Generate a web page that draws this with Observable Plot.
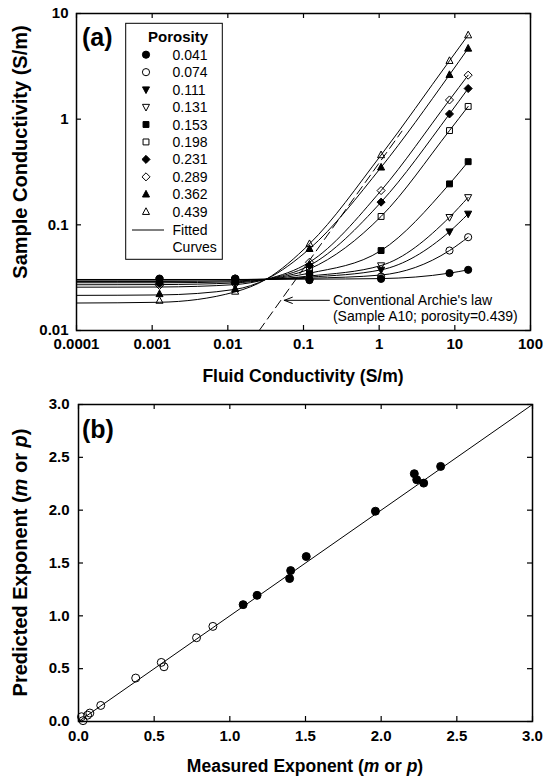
<!DOCTYPE html>
<html><head><meta charset="utf-8">
<script src="https://cdn.jsdelivr.net/npm/d3@7"></script>
<script src="https://cdn.jsdelivr.net/npm/@observablehq/plot@0.6"></script>
<style>
body{margin:0;background:#fff;}
#wrap{position:relative;width:543px;height:781px;font-family:"Liberation Sans",Arial,sans-serif;}
#wrap svg{position:absolute;left:0;}
</style></head><body><div id="wrap"></div>
<script>
// ---------- Panel (a) data ----------
const porosities = ["0.041","0.074","0.111","0.131","0.153","0.198","0.231","0.289","0.362","0.439"];
const symbolKind = ["circle","circle","triDown","triDown","square","square","diamond","diamond","triUp","triUp"];
const symbolFilled = [true,false,true,false,true,false,true,false,true,false];
const fluidX = [0.00125, 0.0125, 0.12, 1.06, 8.5, 15];
const cond041 = [0.031, 0.031, 0.030, 0.0308, 0.0349, 0.0375];
const cond074 = [0.0305, 0.031, 0.0302, 0.0324, 0.0571, 0.0764];
const cond111 = [0.030, 0.030, 0.032, 0.0375, 0.0863, 0.127];
const cond131 = [0.0298, 0.030, 0.033, 0.0412, 0.118, 0.182];
const cond153 = [0.029, 0.0295, 0.0349, 0.0571, 0.244, 0.396];
const cond198 = [0.0285, 0.029, 0.0383, 0.120, 0.78, 1.32];
const cond231 = [0.028, 0.0285, 0.0412, 0.164, 1.12, 1.95];
const cond289 = [0.0267, 0.0276, 0.0443, 0.211, 1.52, 2.61];
const cond362 = [0.0222, 0.0248, 0.0593, 0.350, 2.63, 4.67];
const cond439 = [0.0192, 0.0234, 0.066, 0.458, 3.57, 6.24];
// fitted curves read at these fluid conductivities
const fitX = [0.0001, 0.00125, 0.0125, 0.032, 0.12, 1.06, 8.5, 15];
const fit041 = [0.0304, 0.0304, 0.0304, 0.0305, 0.0306, 0.0310, 0.0349, 0.0375];
const fit074 = [0.0303, 0.0303, 0.0303, 0.0305, 0.0312, 0.0335, 0.0571, 0.0764];
const fit111 = [0.0302, 0.0302, 0.0303, 0.0305, 0.0320, 0.0375, 0.0863, 0.127];
const fit131 = [0.0301, 0.0301, 0.0302, 0.0305, 0.0328, 0.0412, 0.118, 0.182];
const fit153 = [0.0291, 0.0291, 0.0295, 0.0305, 0.0349, 0.0571, 0.244, 0.396];
const fit198 = [0.0283, 0.0283, 0.0289, 0.0305, 0.0383, 0.120, 0.78, 1.32];
const fit231 = [0.0271, 0.0272, 0.0282, 0.0305, 0.0412, 0.164, 1.12, 1.95];
const fit289 = [0.0257, 0.0258, 0.0272, 0.0305, 0.0443, 0.211, 1.52, 2.61];
const fit362 = [0.0215, 0.0217, 0.0245, 0.0305, 0.0593, 0.350, 2.63, 4.67];
const fit439 = [0.0182, 0.0185, 0.0232, 0.0305, 0.066, 0.458, 3.57, 6.24];
const archieX = [0.026, 2.0];
const archieY = [0.01, 0.77];
const arrowTail = [0.22, 0.0193];
const arrowTip = [0.0557, 0.0193];
const annoX = [0.245, 0.245];
const annoY = [0.0193, 0.0136];
const annoText = ["Conventional Archie's law", "(Sample A10; porosity=0.439)"];
const xTicksA = [0.0001, 0.001, 0.01, 0.1, 1, 10, 100];
const yTicksA = [0.01, 0.1, 1, 10];

// ---------- Panel (b) data ----------
const measOpen = [0.02, 0.03, 0.06, 0.075, 0.147, 0.378, 0.547, 0.565, 0.78, 0.888];
const predOpen = [0.045, 0.008, 0.06, 0.08, 0.152, 0.411, 0.559, 0.518, 0.793, 0.90];
const measFilled = [1.088, 1.18, 1.402, 1.395, 1.505, 1.962, 2.219, 2.235, 2.281, 2.393];
const predFilled = [1.106, 1.194, 1.428, 1.353, 1.561, 1.99, 2.345, 2.288, 2.256, 2.414];
const oneToOne = [0, 3];
const ticksB = [0, 0.5, 1, 1.5, 2, 2.5, 3];

// ---------- symbols ----------
const SYM = {
  circle: {draw(c, s){const r=Math.sqrt(s/Math.PI); c.moveTo(r,0); c.arc(0,0,r,0,2*Math.PI);}},
  triUp: {draw(c, s){const r=Math.sqrt(s/Math.PI); c.moveTo(0,-1.1*r); c.lineTo(0.98*r,0.75*r); c.lineTo(-0.98*r,0.75*r); c.closePath();}},
  triDown: {draw(c, s){const r=Math.sqrt(s/Math.PI); c.moveTo(0,1.1*r); c.lineTo(0.98*r,-0.75*r); c.lineTo(-0.98*r,-0.75*r); c.closePath();}},
  square: {draw(c, s){const r=Math.sqrt(s/Math.PI)*0.82; c.rect(-r,-r,2*r,2*r);}},
  diamond: {draw(c, s){const r=Math.sqrt(s/Math.PI)*1.12; c.moveTo(0,-r); c.lineTo(r,0); c.lineTo(0,r); c.lineTo(-r,0); c.closePath();}}
};
const condSeries = [cond041,cond074,cond111,cond131,cond153,cond198,cond231,cond289,cond362,cond439];
const fitSeries = [fit041,fit074,fit111,fit131,fit153,fit198,fit231,fit289,fit362,fit439];

const FONT = "'Liberation Sans', Arial, Helvetica, sans-serif";
const wrap = document.getElementById("wrap");

// ---------- Panel (a) ----------
const WA = 543, HA = 390, mlA = 76, mrA = 13, mtA = 13, mbA = 60;
const fwA = WA - mlA - mrA, fhA = HA - mtA - mbA, TL = 5;
const marksA = [];
fitSeries.forEach(ys => {
  marksA.push(Plot.line(fitX.map((x,i)=>({x, y: ys[i]})), {x:"x", y:"y", stroke:"black", strokeWidth:1, curve:"monotone-x", clip:true}));
});
marksA.push(Plot.line(archieX.map((x,i)=>({x, y: archieY[i]})), {x:"x", y:"y", stroke:"black", strokeWidth:1, strokeDasharray:"9,5", clip:true}));
condSeries.forEach((ys, k) => {
  marksA.push(Plot.dot(fluidX.map((x,i)=>({x, y: ys[i]})), {x:"x", y:"y", r:3.6, symbol: SYM[symbolKind[k]],
    fill: symbolFilled[k] ? "black" : "none", stroke:"black", strokeWidth:1}));
});
marksA.push(Plot.arrow([{x1: arrowTail[0], y1: arrowTail[1], x2: arrowTip[0], y2: arrowTip[1]}], {x1:"x1", y1:"y1", x2:"x2", y2:"y2", stroke:"black", strokeWidth:1, headLength:13, headAngle:42}));
marksA.push(Plot.text(annoText.map((t,i)=>({x: annoX[i], y: annoY[i], t})), {x:"x", y:"y", text:"t", textAnchor:"start", fontSize:14, fill:"black"}));
marksA.push(Plot.tickX(xTicksA, {x: d=>d, insetTop: fhA - TL, stroke:"black", strokeWidth:1.2}));
marksA.push(Plot.tickX(xTicksA, {x: d=>d, insetBottom: fhA - TL, stroke:"black", strokeWidth:1.2}));
marksA.push(Plot.tickY(yTicksA, {y: d=>d, insetRight: fwA - TL, stroke:"black", strokeWidth:1.2}));
marksA.push(Plot.tickY(yTicksA, {y: d=>d, insetLeft: fwA - TL, stroke:"black", strokeWidth:1.2}));
marksA.push(Plot.axisX(xTicksA, {tickSize:0, tickPadding:8, tickFormat: d=>String(d), label:null, fontSize:15, fontWeight:"bold"}));
marksA.push(Plot.axisY(yTicksA, {tickSize:0, tickPadding:8, tickFormat: d=>String(d), label:null, fontSize:15, fontWeight:"bold"}));
marksA.push(Plot.frame({stroke:"black", strokeWidth:1.5}));

const plotA = Plot.plot({
  width: WA, height: HA, marginLeft: mlA, marginRight: mrA, marginTop: mtA, marginBottom: mbA,
  x: {type:"log", domain:[0.0001, 100]},
  y: {type:"log", domain:[0.01, 10]},
  style: {fontFamily: FONT, color:"black", background:"white", overflow:"visible"},
  marks: marksA
});
plotA.style.top = "0px";
wrap.appendChild(plotA);

const sA = d3.select(plotA);
sA.append("text").attr("x", 82).attr("y", 46).attr("text-anchor","start").attr("font-size", 25).attr("font-weight","bold").attr("font-family",FONT).text("(a)");
sA.append("text").attr("x", (mlA + WA - mrA)/2).attr("y", 382).attr("text-anchor","middle").attr("font-size",17.5).attr("font-weight","bold").attr("font-family",FONT).text("Fluid Conductivity (S/m)");
sA.append("text").attr("transform","translate(27,152) rotate(-90)").attr("text-anchor","middle").attr("font-size",20).attr("font-weight","bold").attr("font-family",FONT).text("Sample Conductivity (S/m)");

// legend
const lg = sA.append("g").attr("font-family", FONT).attr("text-anchor","start");
lg.append("rect").attr("x",125.7).attr("y",23.3).attr("width",96.6).attr("height",236).attr("fill","white").attr("stroke","black").attr("stroke-width",1);
lg.append("text").attr("x",148).attr("y",42).attr("font-size",15).attr("font-weight","bold").text("Porosity");
porosities.forEach((p,k) => {
  const cy = 54.7 + 17.45*k;
  lg.append("path").attr("transform",`translate(146,${cy})`)
    .attr("d", d3.symbol().type(SYM[symbolKind[k]]).size(Math.PI*3.6*3.6)())
    .attr("fill", symbolFilled[k] ? "black" : "none").attr("stroke","black").attr("stroke-width",1);
  lg.append("text").attr("x",172.5).attr("y",cy+5).attr("font-size",14).text(p);
});
lg.append("line").attr("x1",132).attr("x2",164).attr("y1",230).attr("y2",230).attr("stroke","black").attr("stroke-width",1);
lg.append("text").attr("x",172.5).attr("y",235).attr("font-size",14).text("Fitted");
lg.append("text").attr("x",172.5).attr("y",251.5).attr("font-size",14).text("Curves");

// ---------- Panel (b) ----------
const WB = 543, HB = 391, mlB = 78, mrB = 11, mtB = 14, mbB = 60;
const fwB = WB - mlB - mrB, fhB = HB - mtB - mbB;
const plotB = Plot.plot({
  width: WB, height: HB, marginLeft: mlB, marginRight: mrB, marginTop: mtB, marginBottom: mbB,
  x: {domain:[0,3]}, y: {domain:[0,3]},
  style: {fontFamily: FONT, color:"black", background:"white", overflow:"visible"},
  marks: [
    Plot.line(oneToOne.map(v=>({x:v, y:v})), {x:"x", y:"y", stroke:"black", strokeWidth:1}),
    Plot.dot(measOpen.map((x,i)=>({x, y: predOpen[i]})), {x:"x", y:"y", r:4, fill:"none", stroke:"black", strokeWidth:1}),
    Plot.dot(measFilled.map((x,i)=>({x, y: predFilled[i]})), {x:"x", y:"y", r:4, fill:"black", stroke:"black", strokeWidth:1}),
    Plot.tickX(ticksB, {x: d=>d, insetTop: fhB - TL, stroke:"black", strokeWidth:1.2}),
    Plot.tickX(ticksB, {x: d=>d, insetBottom: fhB - TL, stroke:"black", strokeWidth:1.2}),
    Plot.tickY(ticksB, {y: d=>d, insetRight: fwB - TL, stroke:"black", strokeWidth:1.2}),
    Plot.tickY(ticksB, {y: d=>d, insetLeft: fwB - TL, stroke:"black", strokeWidth:1.2}),
    Plot.axisX(ticksB, {tickSize:0, tickPadding:9, tickFormat: d3.format(".1f"), label:null, fontSize:15, fontWeight:"bold"}),
    Plot.axisY(ticksB, {tickSize:0, tickPadding:9, tickFormat: d3.format(".1f"), label:null, fontSize:15, fontWeight:"bold"}),
    Plot.frame({stroke:"black", strokeWidth:1.5})
  ]
});
plotB.style.top = "390px";
wrap.appendChild(plotB);
const sB = d3.select(plotB);
sB.append("text").attr("x", 82).attr("y", 48).attr("text-anchor","start").attr("font-size", 25).attr("font-weight","bold").attr("font-family",FONT).text("(b)");
const xt = sB.append("text").attr("x", (mlB + WB - mrB)/2).attr("y", 382).attr("text-anchor","middle").attr("font-size",17.5).attr("font-weight","bold").attr("font-family",FONT);
xt.append("tspan").text("Measured Exponent (");
xt.append("tspan").attr("font-style","italic").text("m");
xt.append("tspan").text(" or ");
xt.append("tspan").attr("font-style","italic").text("p");
xt.append("tspan").text(")");
const yt = sB.append("text").attr("transform",`translate(27,${mtB + fhB/2}) rotate(-90)`).attr("text-anchor","middle").attr("font-size",20).attr("font-weight","bold").attr("font-family",FONT);
yt.append("tspan").text("Predicted Exponent (");
yt.append("tspan").attr("font-style","italic").text("m");
yt.append("tspan").text(" or ");
yt.append("tspan").attr("font-style","italic").text("p");
yt.append("tspan").text(")");
</script></body></html>
